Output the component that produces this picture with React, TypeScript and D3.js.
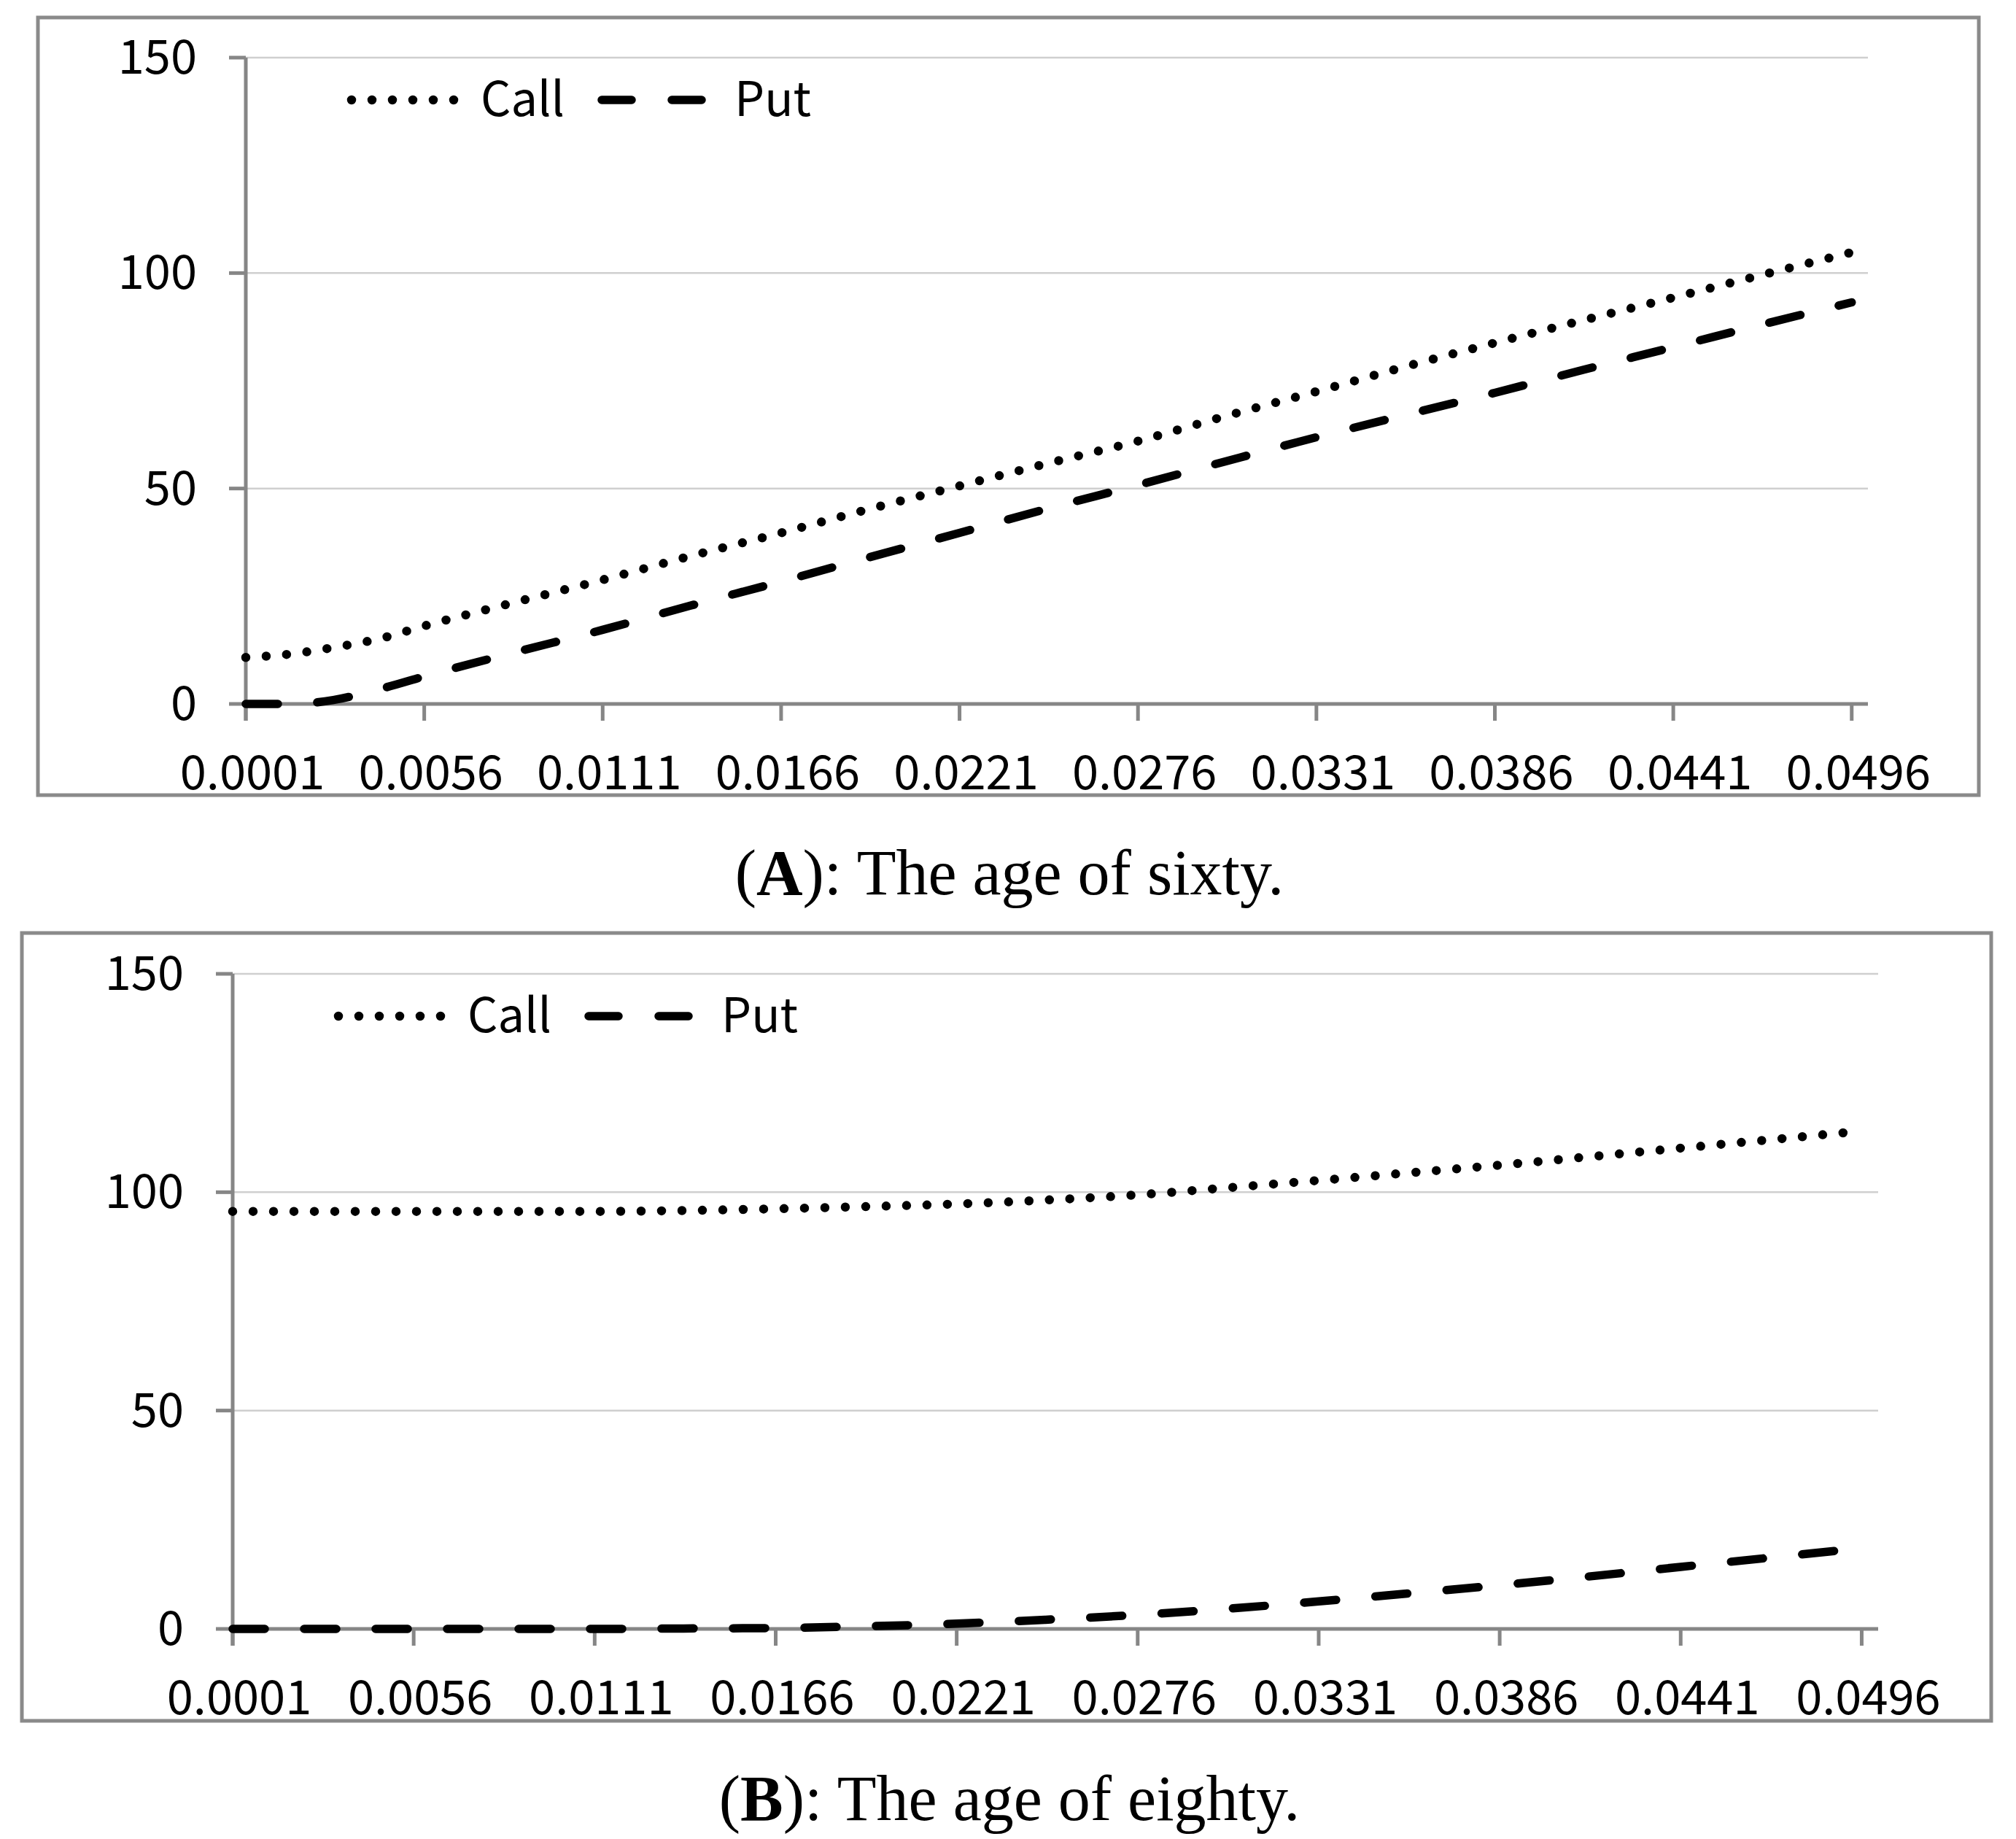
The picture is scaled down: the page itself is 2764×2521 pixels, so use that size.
import React from "react";
import * as d3 from "d3";

// ---------- data ----------
const yTickValues = [0, 50, 100, 150];
const xTickValues = [0.0001, 0.0056, 0.0111, 0.0166, 0.0221, 0.0276, 0.0331, 0.0386, 0.0441, 0.0496];
const xTickLabels = ["0.0001", "0.0056", "0.0111", "0.0166", "0.0221", "0.0276", "0.0331", "0.0386", "0.0441", "0.0496"];
const xDomain = [0.0001, 0.0501];
const yDomain = [0, 150];
const seriesNames = ["Call", "Put"];

const xA = [0.0001, 0.0015, 0.0028, 0.0042, 0.0056, 0.0083, 0.0111, 0.0138, 0.0166, 0.0193, 0.0221, 0.0248, 0.0276, 0.0303, 0.0331, 0.0358, 0.0386, 0.0413, 0.0441, 0.0468, 0.0496];
const callA = [10.8, 11.6, 13.1, 15.1, 18.1, 23.4, 28.8, 34.3, 39.7, 45.2, 50.6, 55.8, 61.0, 66.8, 72.5, 78.2, 83.8, 89.0, 94.3, 99.5, 104.8];
const putA = [0, 0, 0.9, 3.4, 6.4, 11.8, 17.2, 22.8, 28.4, 34.0, 39.7, 45.3, 50.8, 56.3, 61.9, 67.0, 72.2, 77.5, 82.8, 88.0, 93.2];

const xB = [0.0001, 0.0056, 0.0111, 0.0138, 0.0166, 0.0193, 0.0221, 0.0248, 0.0276, 0.0303, 0.0331, 0.0358, 0.0386, 0.0413, 0.0441, 0.0468, 0.0496];
const callB = [95.6, 95.6, 95.6, 95.8, 96.2, 96.7, 97.3, 98.2, 99.4, 101.0, 102.7, 104.4, 106.2, 108.1, 110.1, 112.0, 114.0];
const putB = [0, 0, 0, 0.1, 0.2, 0.6, 1.2, 2.1, 3.2, 4.6, 6.3, 8.1, 10.0, 12.0, 14.2, 16.3, 18.5];

const captionLetters = ["A", "B"];
const captionTexts = ["): The age of sixty.", "): The age of eighty."];

// ---------- layout / style ----------
const W = 2764;
const H = 2521;
const SANS = "'Noto Sans CJK KR', 'Noto Sans', sans-serif";
const SERIF = "'Liberation Serif', 'Times New Roman', serif";
const AXIS = "#868686";
const GRID = "#cfcfcf";
const BORDER = "#8a8a8a";
const FS = 65;

type Layout = {
  border: [number, number, number, number];
  left: number;
  right: number;
  top: number;
  bottom: number;
  captionY: number;
};

const layoutA: Layout = { border: [52, 24, 2713, 1090], left: 337, right: 2561, top: 79, bottom: 965, captionY: 1226 };
const layoutB: Layout = { border: [30, 1279, 2730, 2359], left: 319, right: 2575, top: 1335, bottom: 2233, captionY: 2495 };

const CALL_STYLE = { strokeWidth: 12.5, dash: "0 28" };
const PUT_STYLE = { strokeWidth: 11.5, dash: "44 54" };

function Panel({ layout, xs, call, put, idx }: { layout: Layout; xs: number[]; call: number[]; put: number[]; idx: number }) {
  const x = d3.scaleLinear().domain(xDomain).range([layout.left, layout.right]);
  const y = d3.scaleLinear().domain(yDomain).range([layout.bottom, layout.top]);
  const line = d3
    .line<[number, number]>()
    .x((d) => x(d[0]))
    .y((d) => y(d[1]))
    .curve(d3.curveMonotoneX);
  const callPath = line(xs.map((v, i) => [v, call[i]] as [number, number])) || "";
  const putPath = line(xs.map((v, i) => [v, put[i]] as [number, number])) || "";
  const [bx0, by0, bx1, by1] = layout.border;
  const ly = y(150) + 58;
  const lx = layout.left;
  const tickLen = 23;
  return (
    <g>
      <rect x={bx0} y={by0} width={bx1 - bx0} height={by1 - by0} fill="none" stroke={BORDER} strokeWidth={5} />
      {yTickValues
        .filter((v) => v > 0)
        .map((v) => (
          <line key={"g" + v} x1={layout.left} x2={layout.right} y1={y(v)} y2={y(v)} stroke={GRID} strokeWidth={2.5} />
        ))}
      <line x1={layout.left} x2={layout.left} y1={y(150)} y2={y(0) + tickLen} stroke={AXIS} strokeWidth={5} />
      {yTickValues.map((v) => (
        <g key={"yt" + v}>
          <line x1={layout.left - tickLen} x2={layout.left} y1={y(v)} y2={y(v)} stroke={AXIS} strokeWidth={5} />
          <text x={layout.left - 67} y={y(v) + 22} textAnchor="end" fontFamily={SANS} fontSize={FS} fill="#000">
            {v}
          </text>
        </g>
      ))}
      <line x1={layout.left} x2={layout.right} y1={y(0)} y2={y(0)} stroke={AXIS} strokeWidth={5} />
      {xTickValues.map((v, i) => (
        <g key={"xt" + i}>
          <line x1={x(v)} x2={x(v)} y1={y(0)} y2={y(0) + tickLen} stroke={AXIS} strokeWidth={5} />
          <text x={x(v) + 9} y={y(0) + 117} textAnchor="middle" fontFamily={SANS} fontSize={FS} fill="#000">
            {xTickLabels[i]}
          </text>
        </g>
      ))}
      <path d={callPath} fill="none" stroke="#000" strokeWidth={CALL_STYLE.strokeWidth} strokeDasharray={CALL_STYLE.dash} strokeLinecap="round" />
      <path d={putPath} fill="none" stroke="#000" strokeWidth={PUT_STYLE.strokeWidth} strokeDasharray={PUT_STYLE.dash} strokeLinecap="round" />
      <line x1={lx + 145} x2={lx + 286} y1={ly} y2={ly} stroke="#000" strokeWidth={CALL_STYLE.strokeWidth} strokeDasharray={CALL_STYLE.dash} strokeLinecap="round" />
      <text x={lx + 322} y={ly + 22} fontFamily={SANS} fontSize={FS} fill="#000">
        {seriesNames[0]}
      </text>
      <line x1={lx + 488} x2={lx + 628} y1={ly} y2={ly} stroke="#000" strokeWidth={PUT_STYLE.strokeWidth} strokeDasharray="41 55" strokeLinecap="round" />
      <text x={lx + 670} y={ly + 22} fontFamily={SANS} fontSize={FS} fill="#000">
        {seriesNames[1]}
      </text>
      <text x={1384} y={layout.captionY} textAnchor="middle" fontFamily={SERIF} fontSize={88} fill="#000">
        (<tspan fontWeight="bold">{captionLetters[idx]}</tspan>
        {captionTexts[idx]}
      </text>
    </g>
  );
}

export default function App() {
  return (
    <svg
      width={W}
      height={H}
      viewBox={`0 0 ${W} ${H}`}
      style={{ position: "absolute", left: 0, top: 0, background: "#fff" }}
    >
      <rect x={0} y={0} width={W} height={H} fill="#fff" />
      <Panel layout={layoutA} xs={xA} call={callA} put={putA} idx={0} />
      <Panel layout={layoutB} xs={xB} call={callB} put={putB} idx={1} />
    </svg>
  );
}
